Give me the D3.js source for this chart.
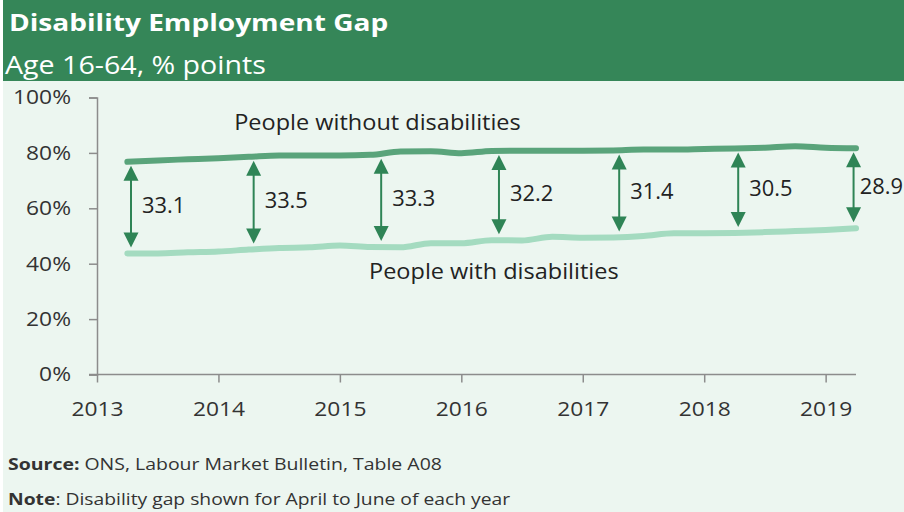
<!DOCTYPE html>
<html>
<head>
<meta charset="utf-8">
<script src="https://cdn.jsdelivr.net/npm/d3@7"></script>
<style>
  html, body { margin: 0; padding: 0; background: #ffffff; }
  svg { display: block; font-family: "Open Sans", "Noto Sans", sans-serif; }
</style>
</head>
<body>
<svg id="chart" width="904" height="512"></svg>
<script>
// Employment rates, rolling quarters from Apr-Jun 2013 to Apr-Jun 2019 (%)
const startYear = 2013.25;           // Apr-Jun 2013
const quarterStep = 0.25;
const withoutDisabilities = [
  76.8, 77.3, 77.7, 78.1, 78.6, 79.1, 79.1, 79.1, 79.3, 80.5, 80.6, 79.9,
  80.7, 80.8, 80.8, 80.8, 80.9, 81.2, 81.2, 81.4, 81.6, 81.9, 82.4, 81.9, 81.7
];
const withDisabilities = [
  43.7, 43.7, 44.1, 44.4, 45.1, 45.7, 45.9, 46.6, 46.0, 45.9, 47.4, 47.4,
  48.5, 48.4, 49.7, 49.4, 49.5, 50.0, 51.0, 51.0, 51.1, 51.4, 51.8, 52.2, 52.8
];
// Gap annotations: index of each Apr-Jun quarter and where its arrow sits
const gapQuarterIndex = [0, 4, 8, 12, 16, 20, 24];
const gapArrowDate = [2013.28, 2014.29, 2015.34, 2016.31, 2017.30, 2018.28, 2019.23];
const yearTicks = [2013, 2014, 2015, 2016, 2017, 2018, 2019];
const pctTicks = [0, 20, 40, 60, 80, 100];

const title = "Disability Employment Gap";
const subtitle = "Age 16-64, % points";
const seriesNames = ["People without disabilities", "People with disabilities"];

const colors = {
  header: "#358658",
  panel: "#ecf6f0",
  upper: "#5aa47b",
  lower: "#a4dbc0",
  arrow: "#2f8456",
  axis: "#8c8c8c",
  text: "#222222"
};

const W = 904;
const svg = d3.select("#chart");

// The house typeface sets wider than Open Sans; widen glyphs horizontally.
function wideText(parent, x, y, k) {
  return parent.append("text")
    .attr("transform", `translate(${x},${y}) scale(${k},1)`);
}

// Backgrounds
svg.append("rect").attr("x", 3).attr("y", 81).attr("width", W - 3).attr("height", 431)
  .attr("fill", colors.panel);
svg.append("rect").attr("x", 3).attr("y", 0).attr("width", W - 3).attr("height", 81)
  .attr("fill", colors.header);

wideText(svg, 9, 31, 1.17)
  .attr("fill", "#fff").attr("font-size", 24).attr("font-weight", 700)
  .text(title);
wideText(svg, 5, 74, 1.1)
  .attr("fill", "#fff").attr("font-size", 26)
  .text(subtitle);

// Scales
const x = d3.scaleLinear().domain([2013, 2019.25]).range([97, 856]);
const y = d3.scaleLinear().domain([0, 100]).range([374.5, 97.5]);

// Axes
const tickK = 1.14;
const yAxis = d3.axisLeft(y).tickValues(pctTicks).tickSize(8).tickPadding(18)
  .tickFormat(d => d + "%");
const gy = svg.append("g").attr("transform", `translate(${x(2013)},0)`).call(yAxis);
const xAxis = d3.axisBottom(x).tickValues(yearTicks).tickSize(8).tickPadding(19)
  .tickFormat(d3.format("d"));
const gx = svg.append("g").attr("transform", `translate(0,${y(0)})`).call(xAxis);
// extend the baseline left to meet the 0% tick
gx.select(".domain").attr("d", `M${x(2013) - 8},0H${x(2019.25)}`);

[gx, gy].forEach(g => {
  g.selectAll(".domain, .tick line").attr("stroke", colors.axis).attr("stroke-width", 1.5);
  g.selectAll(".tick text").attr("fill", "#333").attr("font-size", 20)
    .attr("font-family", "'Open Sans', sans-serif")
    .attr("transform", `scale(${tickK},1)`);
});
gy.selectAll(".tick text").attr("x", -26 / tickK);

// Lines
const dateOf = i => startYear + i * quarterStep;
const line = d3.line()
  .x((d, i) => x(dateOf(i)))
  .y(d => y(d))
  .curve(d3.curveMonotoneX);

svg.append("path").datum(withoutDisabilities)
  .attr("d", line).attr("fill", "none")
  .attr("stroke", colors.upper).attr("stroke-width", 6)
  .attr("stroke-linecap", "round").attr("stroke-linejoin", "round");
svg.append("path").datum(withDisabilities)
  .attr("d", line).attr("fill", "none")
  .attr("stroke", colors.lower).attr("stroke-width", 6)
  .attr("stroke-linecap", "round").attr("stroke-linejoin", "round");

// Series labels
wideText(svg, x(2014.13), 130, 1.12)
  .attr("fill", colors.text).attr("font-size", 21).text(seriesNames[0]);
wideText(svg, x(2015.24), 279, 1.12)
  .attr("fill", colors.text).attr("font-size", 21).text(seriesNames[1]);

// Gap arrows with values
const gaps = gapQuarterIndex.map((qi, j) => ({
  date: gapArrowDate[j],
  upper: withoutDisabilities[qi],
  lower: withDisabilities[qi],
  gap: withoutDisabilities[qi] - withDisabilities[qi]
}));

const headW = 15, headH = 15, labelK = 1.04;
const ga = svg.append("g").selectAll("g").data(gaps).join("g");
ga.each(function(d) {
  const g = d3.select(this);
  const ax = x(d.date);
  const top = y(d.upper) + 4;
  const bot = y(d.lower) - 6;
  g.append("line").attr("x1", ax).attr("x2", ax)
    .attr("y1", top + headH - 1).attr("y2", bot - headH + 1)
    .attr("stroke", colors.arrow).attr("stroke-width", 2);
  g.append("path")
    .attr("d", `M${ax},${top}L${ax + headW / 2},${top + headH}L${ax - headW / 2},${top + headH}Z`)
    .attr("fill", colors.arrow);
  g.append("path")
    .attr("d", `M${ax},${bot}L${ax + headW / 2},${bot - headH}L${ax - headW / 2},${bot - headH}Z`)
    .attr("fill", colors.arrow);
  const t = wideText(g, ax + 11, (top + bot) / 2, labelK)
    .attr("dy", "0.3em")
    .attr("fill", colors.text).attr("font-size", 21)
    .text(d3.format(".1f")(d.gap));
  // keep the label inside the frame, nudging it towards its arrow if needed
  const w = t.node().getComputedTextLength() * labelK;
  const lx = Math.min(ax + 11, W - 1 - w);
  t.attr("transform", `translate(${lx},${(top + bot) / 2}) scale(${labelK},1)`);
});

// Footer
const footer = svg.append("g").attr("fill", "#333").attr("font-size", 16.5);
const src = wideText(footer, 8, 470, 1.18);
src.append("tspan").attr("font-weight", 700).text("Source:");
src.append("tspan").text(" ONS, Labour Market Bulletin, Table A08");
const note = wideText(footer, 8, 505, 1.17);
note.append("tspan").attr("font-weight", 700).text("Note");
note.append("tspan").text(": Disability gap shown for April to June of each year");
</script>
</body>
</html>
